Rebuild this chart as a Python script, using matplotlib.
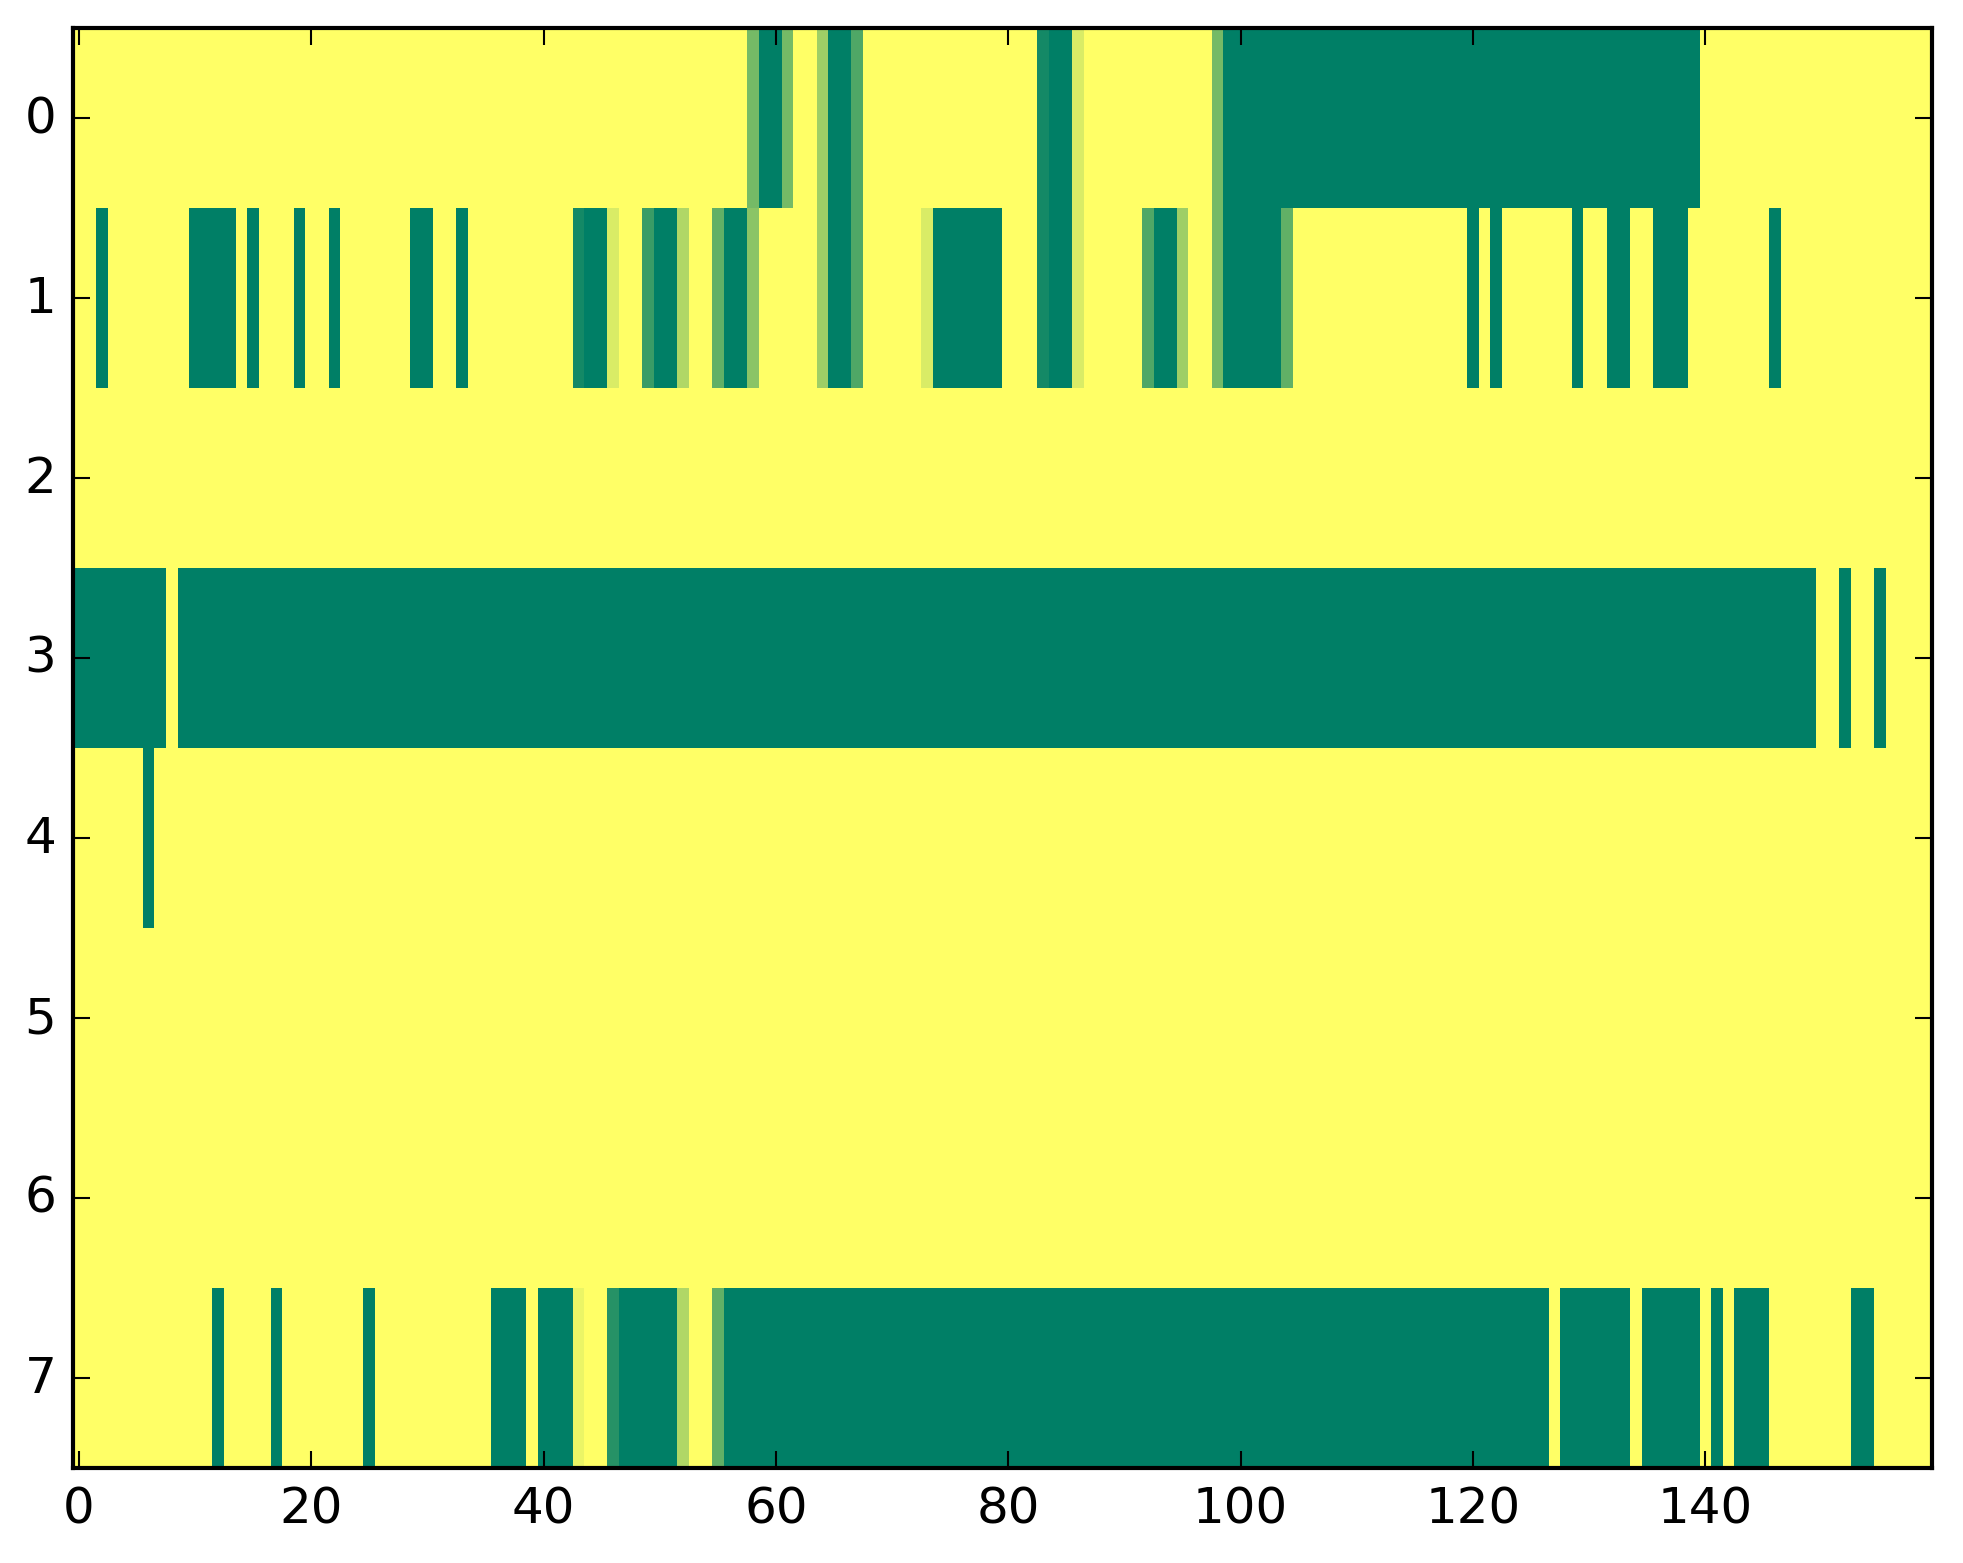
import numpy as np
import matplotlib
matplotlib.use("Agg")
import matplotlib.pyplot as plt

# ------------------------------------------------------------
# Data: 8 rows x 160 columns, value per cell (0 = yellow, 1 = green)
# each row given as runs of (first_col, last_col, value)
# ------------------------------------------------------------
n_rows = 8
n_cols = 160

row0_runs = [(58, 58, 0.54), (59, 60, 1.0), (61, 61, 0.54),
             (64, 64, 0.38), (65, 66, 1.0), (67, 67, 0.69),
             (83, 83, 0.92), (84, 85, 1.0), (86, 86, 0.15),
             (98, 98, 0.54), (99, 139, 1.0)]

row1_runs = [(2, 2, 1.0), (10, 13, 1.0), (15, 15, 1.0), (19, 19, 1.0),
             (22, 22, 1.0), (29, 30, 1.0), (33, 33, 1.0),
             (43, 43, 0.92), (44, 45, 1.0), (46, 46, 0.15),
             (49, 49, 0.77), (50, 51, 1.0), (52, 52, 0.31),
             (55, 55, 0.62), (56, 57, 1.0), (58, 58, 0.46),
             (64, 64, 0.38), (65, 66, 1.0), (67, 67, 0.69),
             (73, 73, 0.15), (74, 79, 1.0),
             (83, 83, 0.92), (84, 85, 1.0), (86, 86, 0.15),
             (92, 92, 0.69), (93, 94, 1.0), (95, 95, 0.38),
             (98, 98, 0.54), (99, 103, 1.0), (104, 104, 0.62),
             (120, 120, 1.0), (122, 122, 1.0), (129, 129, 1.0),
             (132, 133, 1.0), (136, 138, 1.0), (146, 146, 1.0)]

row2_runs = []

row3_runs = [(0, 7, 1.0), (9, 149, 1.0), (152, 152, 1.0), (155, 155, 1.0)]

row4_runs = [(6, 6, 1.0)]

row5_runs = []

row6_runs = []

row7_runs = [(12, 12, 1.0), (17, 17, 1.0), (25, 25, 1.0),
             (36, 38, 1.0), (40, 42, 1.0), (43, 43, 0.08),
             (46, 46, 0.85), (47, 51, 1.0), (52, 52, 0.31),
             (55, 55, 0.62), (56, 126, 1.0), (128, 133, 1.0),
             (135, 139, 1.0), (141, 141, 1.0), (143, 145, 1.0),
             (153, 154, 1.0)]

all_runs = [row0_runs, row1_runs, row2_runs, row3_runs,
            row4_runs, row5_runs, row6_runs, row7_runs]

grid = np.zeros((n_rows, n_cols))
for r, runs in enumerate(all_runs):
    for c0, c1, v in runs:
        grid[r, c0:c1 + 1] = v

# ------------------------------------------------------------
# Plot
# ------------------------------------------------------------
plt.style.use("classic")

W, H, DPI = 1963, 1564, 300
fig = plt.figure(figsize=(W / DPI, H / DPI), dpi=DPI, facecolor="white")
ax = fig.add_axes([73 / W, 1 - 1469 / H, 1859 / W, 1440 / H])

ax.imshow(grid, cmap="summer_r", vmin=0, vmax=1,
          interpolation="nearest", aspect="auto")

ax.set_xticks(np.arange(0, 141, 20))
ax.set_yticks(np.arange(0, 8))
ax.set_xlim(-0.5, n_cols - 0.5)
ax.set_ylim(n_rows - 0.5, -0.5)

fig.savefig("out.png", dpi=DPI, facecolor="white")
